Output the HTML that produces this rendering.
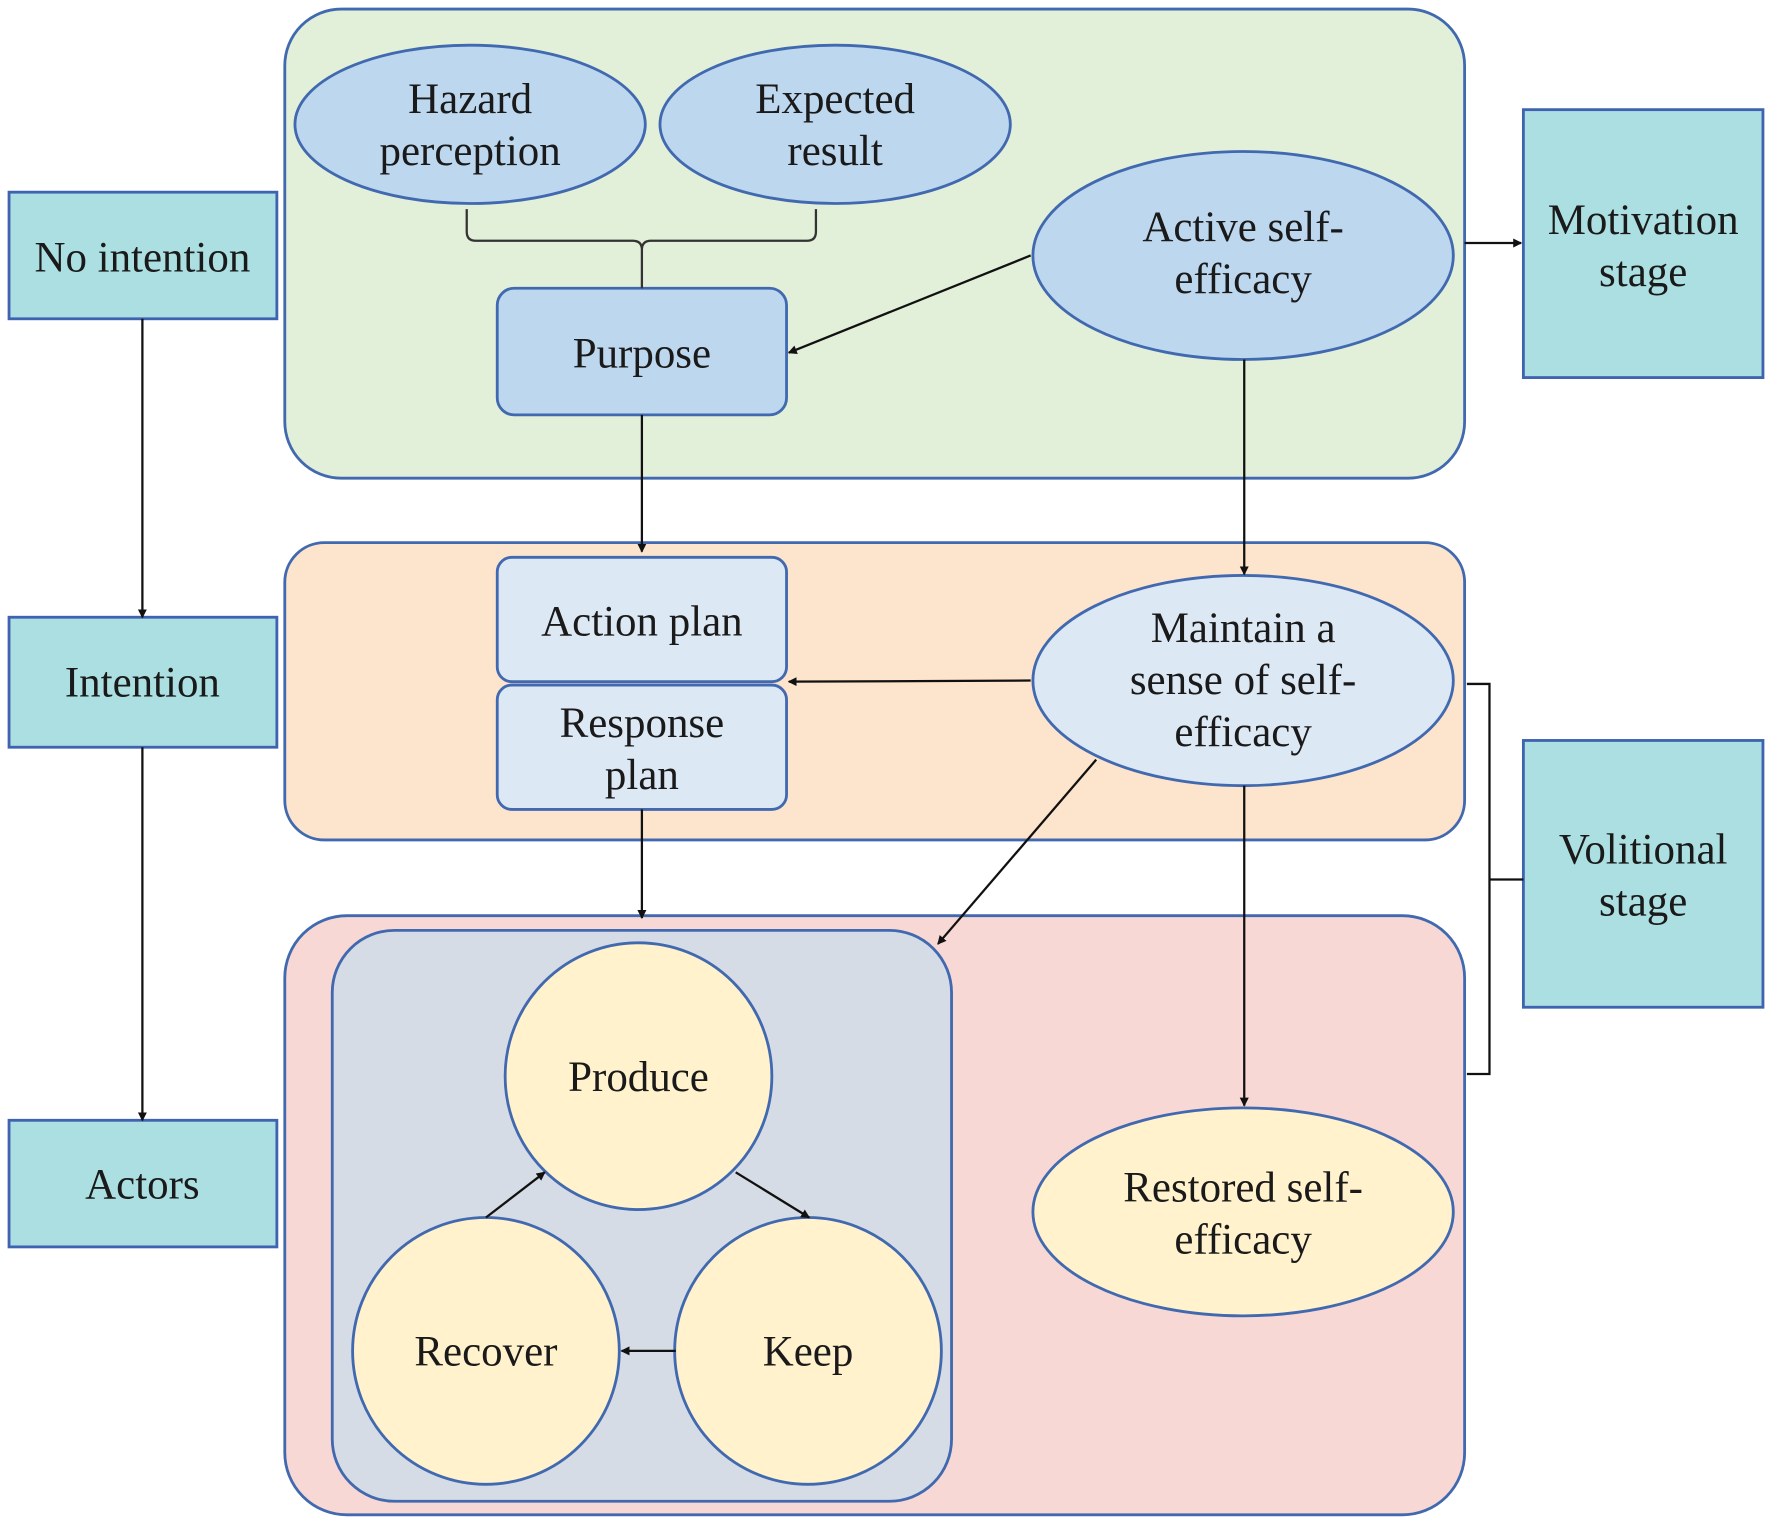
<!DOCTYPE html>
<html><head><meta charset="utf-8"><style>html,body{margin:0;padding:0;background:#fff}svg{display:block}</style></head>
<body>
<svg width="1772" height="1525" viewBox="0 0 1568 1349" preserveAspectRatio="none" xmlns="http://www.w3.org/2000/svg">
<defs><marker id="a" markerWidth="8" markerHeight="8" refX="7" refY="4" orient="auto" markerUnits="userSpaceOnUse"><path d="M0,0 L8,4 L0,8 z" fill="#111"/></marker></defs>
<g stroke="#4169b0" stroke-width="2.5">
<rect x="252" y="8" width="1044" height="415" rx="50" fill="#e2efd9"/>
<rect x="252" y="480" width="1044" height="263" rx="35" fill="#fde4cc"/>
<rect x="252" y="810" width="1044" height="530" rx="55" fill="#f8d8d4"/>
<rect x="294" y="823" width="548" height="505" rx="55" fill="#d6dce5"/>
<g fill="#abdfe2" stroke="#3f63b0"><rect x="8" y="170" width="237" height="112"/><rect x="8" y="546" width="237" height="115"/><rect x="8" y="991" width="237" height="112"/><rect x="1348" y="97" width="212" height="237"/><rect x="1348" y="655" width="212" height="236"/></g>
<ellipse cx="416" cy="110" rx="155" ry="70" fill="#bdd7ee"/>
<ellipse cx="739" cy="110" rx="155" ry="70" fill="#bdd7ee"/>
<ellipse cx="1100" cy="226" rx="186" ry="92" fill="#bdd7ee"/>
<rect x="440" y="255" width="256" height="112" rx="15" fill="#bdd7ee"/>
<rect x="440" y="493" width="256" height="110" rx="13" fill="#dde8f5"/>
<rect x="440" y="606" width="256" height="110" rx="13" fill="#dde8f5"/>
<ellipse cx="1100" cy="602" rx="186" ry="93" fill="#dde8f5"/>
<ellipse cx="1100" cy="1072" rx="186" ry="92" fill="#fff2cc"/>
<circle cx="565" cy="952" r="118" fill="#fff2cc"/>
<circle cx="430" cy="1195" r="118" fill="#fff2cc"/>
<circle cx="715" cy="1195" r="118" fill="#fff2cc"/>
</g>
<g stroke="#111" stroke-width="2" fill="none">
<path d="M413,185 V205 Q413,213 421,213 H560 Q568,213 568,221 V255 M568,221 Q568,213 576,213 H714 Q722,213 722,205 V185" stroke="#333"/>
<path d="M912,226 L698,312" marker-end="url(#a)"/>
<path d="M568,367 V488" marker-end="url(#a)"/>
<path d="M1101,318 V508" marker-end="url(#a)"/>
<path d="M912,602 L698,603" marker-end="url(#a)"/>
<path d="M970,672 L830,835" marker-end="url(#a)"/>
<path d="M1101,695 V978" marker-end="url(#a)"/>
<path d="M568,716 V812" marker-end="url(#a)"/>
<path d="M651,1037 L716,1077" marker-end="url(#a)"/>
<path d="M430,1077 L482,1037" marker-end="url(#a)"/>
<path d="M598,1195 H550" marker-end="url(#a)"/>
<path d="M1296,215 H1346" marker-end="url(#a)"/>
<path d="M1298,605 H1318 V950 H1298 M1318,778 H1348"/>
<path d="M126,282 V546" marker-end="url(#a)"/>
<path d="M126,661 V991" marker-end="url(#a)"/>
</g>
<g font-family="Liberation Serif, serif" font-size="38" fill="#1a1a1a" text-anchor="middle">
<text x="416" y="100">Hazard</text><text x="416" y="146">perception</text>
<text x="739" y="100">Expected</text><text x="739" y="146">result</text>
<text x="1100" y="213">Active self-</text><text x="1100" y="259">efficacy</text>
<text x="568" y="325">Purpose</text>
<text x="568" y="562">Action plan</text>
<text x="568" y="652">Response</text><text x="568" y="698">plan</text>
<text x="1100" y="568">Maintain a</text><text x="1100" y="614">sense of self-</text><text x="1100" y="660">efficacy</text>
<text x="1100" y="1063">Restored self-</text><text x="1100" y="1109">efficacy</text>
<text x="565" y="965">Produce</text>
<text x="430" y="1208">Recover</text>
<text x="715" y="1208">Keep</text>
<text x="126" y="240">No intention</text>
<text x="126" y="616">Intention</text>
<text x="126" y="1060">Actors</text>
<text x="1454" y="207">Motivation</text><text x="1454" y="253">stage</text>
<text x="1454" y="764">Volitional</text><text x="1454" y="810">stage</text>
</g>
</svg>
</body></html>
